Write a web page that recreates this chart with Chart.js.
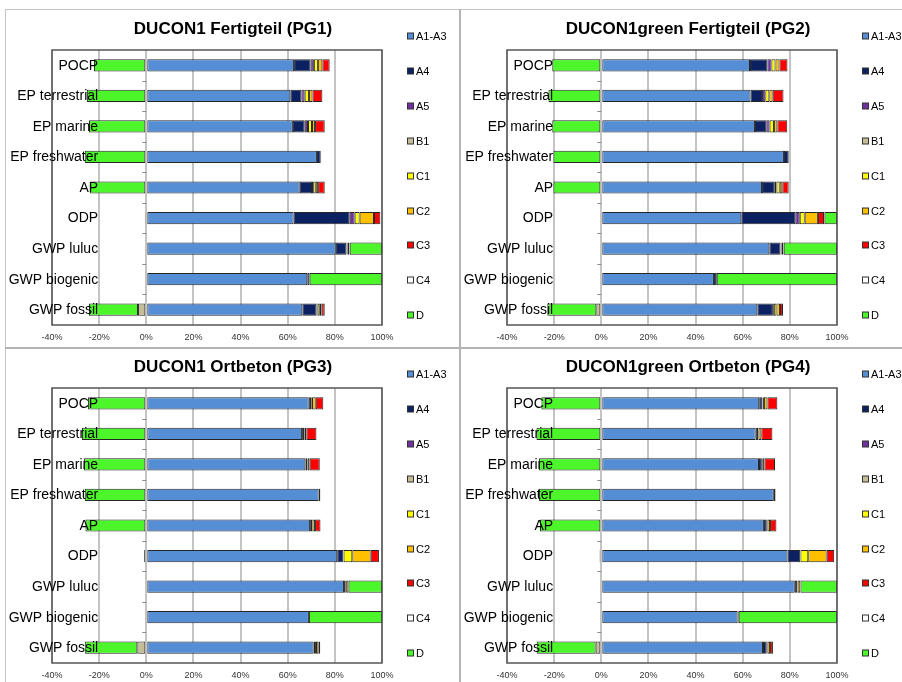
<!DOCTYPE html>
<html>
<head>
<meta charset="utf-8">
<script src="https://cdn.jsdelivr.net/npm/chart.js@4.4.1/dist/chart.umd.min.js"></script>
<style>
  html, body { margin: 0; padding: 0; background: #fff; }
  #page { position: relative; width: 902px; height: 682px; overflow: hidden; }
  canvas { position: absolute; }
  .rule { position: absolute; background: #c3c3c3; z-index: 2; }
</style>
</head>
<body>
<div id="page">
  <div class="rule" style="left:5px;top:9px;width:897px;height:1px"></div>
  <div class="rule" style="left:5px;top:9px;width:1px;height:673px"></div>
  <div class="rule" style="left:459px;top:9px;width:2px;height:673px;background:#b4b4b4"></div>
  <div class="rule" style="left:5px;top:347px;width:897px;height:2px;background:#b4b4b4"></div>
  <canvas id="pg1" width="454" height="337" style="left:6px;top:11px"></canvas>
  <canvas id="pg2" width="454" height="337" style="left:461px;top:11px"></canvas>
  <canvas id="pg3" width="454" height="337" style="left:6px;top:349px"></canvas>
  <canvas id="pg4" width="454" height="337" style="left:461px;top:349px"></canvas>
</div>
<script>
const categories = ['POCP', 'EP terrestrial', 'EP marine', 'EP freshwater', 'AP', 'ODP', 'GWP luluc', 'GWP biogenic', 'GWP fossil'];
const stages = ['A1-A3', 'A4', 'A5', 'B1', 'C1', 'C2', 'C3', 'C4', 'D'];
const stageColors = ['#558ed5', '#0b2162', '#7030a0', '#c4bd97', '#ffff00', '#ffc000', '#ff0000', '#ffffff', '#4df52b'];
const xTicks = [-40, -20, 0, 20, 40, 60, 80, 100];

// shares in %, one row per stage (A1-A3 ... D), columns follow categories
const pg1Values = [
    [62.7, 61.1, 62.2, 72.4, 65.1, 62.5, 80.4, 68.3, 66.2],
    [7.0, 4.7, 5.0, 1.6, 5.2, 23.8, 4.5, 1.0, 6.0],
    [1.4, 1.4, 1.4, 0.1, 0.5, 2.1, 0.2, 0, 0.4],
    [0, 0, 0, 0, 0, 0, 0, 0, -3.5],
    [1.7, 1.8, 1.7, 0, 1.1, 2.1, 0.3, 0, 1.0],
    [1.9, 1.5, 1.3, 0, 1.0, 6.1, 0.8, 0, 0.8],
    [3.1, 4.2, 4.1, 0.1, 2.8, 2.7, 0.1, 0, 1.3],
    [0, 0, 0, 0, 0, 0, 0, 0, 0],
    [-22.2, -25.2, -24.3, -26.1, -24.0, -0.6, 13.7, 30.7, -20.8]
];
const pg2Values = [
    [63.1, 63.3, 65.2, 77.5, 68.2, 59.4, 71.3, 47.8, 66.2],
    [7.4, 4.9, 4.8, 2.0, 5.4, 22.9, 4.7, 1.2, 6.6],
    [1.7, 1.4, 1.4, 0.1, 0.7, 1.9, 0.1, 0, 0.4],
    [0, 0, 0, 0, 0, 0, 0, 0, -2.1],
    [1.7, 1.7, 1.9, 0, 1.4, 2.1, 0.3, 0, 1.1],
    [1.7, 1.4, 1.4, 0, 1.1, 5.6, 0.8, 0, 1.5],
    [3.4, 4.6, 4.2, 0.1, 2.7, 2.6, 0.2, 0, 1.3],
    [0, 0, 0, 0, 0, 0.2, 0, 0, 0],
    [-20.8, -22.4, -20.8, -20.3, -20.3, 5.3, 22.6, 51.0, -20.8]
];
const pg3Values = [
    [68.9, 66.1, 67.5, 73.1, 69.5, 81.0, 83.9, 69.0, 71.0],
    [1.0, 0.8, 0.7, 0.7, 0.8, 2.6, 0.7, 0, 0.6],
    [0.1, 0, 0, 0, 0, 0.1, 0, 0, 0],
    [0, 0, 0, 0, 0, 0, 0, 0, -3.8],
    [0.3, 0.2, 0.2, 0, 0.2, 3.7, 0.2, 0, 0.4],
    [1.6, 0.8, 0.9, 0, 1.1, 7.8, 1.0, 0, 1.0],
    [3.2, 4.3, 4.3, 0.1, 2.3, 3.5, 0, 0, 0.8],
    [0, 0, 0, 0, 0, 0, 0, 0, 0],
    [-24.7, -27.3, -26.4, -26.1, -25.8, -0.9, 14.2, 31.0, -22.3]
];
const pg4Values = [
    [67.0, 65.5, 66.9, 73.2, 69.0, 79.0, 82.1, 57.8, 68.6],
    [1.3, 1.0, 1.2, 0.7, 1.2, 5.4, 1.0, 0.5, 1.4],
    [0.1, 0, 0, 0, 0, 0.1, 0, 0, 0],
    [0, 0, 0, 0, 0, 0, 0, 0, -2.4],
    [0.6, 0.2, 0.2, 0, 0.3, 3.3, 0.2, 0, 0.5],
    [1.5, 1.2, 0.9, 0, 1.1, 7.8, 1.1, 0, 1.1],
    [4.2, 4.7, 4.5, 0.1, 2.7, 3.2, 0.1, 0, 1.3],
    [0, 0, 0, 0, 0, 0, 0, 0, 0],
    [-25.4, -27.5, -26.4, -26.4, -26.0, -0.7, 15.5, 41.7, -25.0]
];

const fontFamily = '"Liberation Sans", Arial, sans-serif';

// frame, category ticks/labels, title and legend drawn over the bars
const decor = {
    id: 'decor',
    afterDatasetsDraw(chart, args, opts) {
        const { ctx, chartArea: a, scales: { x, y } } = chart;
        ctx.save();

        ctx.strokeStyle = '#555';
        ctx.lineWidth = 1.5;
        ctx.strokeRect(a.left, a.top, a.right - a.left, a.bottom - a.top);

        const x0 = x.getPixelForValue(0);
        ctx.strokeStyle = '#8c8c8c';
        ctx.lineWidth = 1;
        for (let i = 0; i < chart.data.labels.length - 1; i++) {
            const yy = Math.round((y.getPixelForValue(i) + y.getPixelForValue(i + 1)) / 2) + 0.5;
            ctx.beginPath();
            ctx.moveTo(x0 - 4, yy);
            ctx.lineTo(x0, yy);
            ctx.stroke();
        }

        ctx.fillStyle = '#000';
        ctx.font = '14px ' + fontFamily;
        ctx.textAlign = 'right';
        ctx.textBaseline = 'middle';
        const lx = x.getPixelForValue(-20) - 1;
        chart.data.labels.forEach((l, i) => ctx.fillText(l, lx, y.getPixelForValue(i) + 0.5));

        ctx.font = 'bold 17px ' + fontFamily;
        ctx.textAlign = 'center';
        ctx.fillText(opts.text, chart.width / 2, 18);

        ctx.font = '11px ' + fontFamily;
        ctx.textAlign = 'left';
        chart.data.datasets.forEach((ds, k) => {
            const cy = Math.round(25 + k * 34.9);
            ctx.fillStyle = ds.backgroundColor;
            ctx.fillRect(401.5, cy - 3, 6, 6);
            ctx.strokeStyle = '#333';
            ctx.strokeRect(401.5, cy - 3, 6, 6);
            ctx.fillStyle = '#000';
            ctx.fillText(ds.label, 410, cy + 0.5);
        });
        ctx.restore();
    }
};

function makeChart(id, title, rows) {
    return new Chart(document.getElementById(id), {
        type: 'bar',
        data: {
            labels: categories,
            datasets: stages.map((s, k) => ({
                label: s,
                data: rows[k],
                backgroundColor: stageColors[k],
                borderColor: '#262626',
                borderWidth: 1,
                borderSkipped: false,
                barPercentage: 0.4,
                categoryPercentage: 1
            }))
        },
        options: {
            indexAxis: 'y',
            responsive: false,
            animation: false,
            layout: { padding: { left: 46, right: 78, top: 39, bottom: 0 } },
            scales: {
                x: {
                    stacked: true,
                    min: xTicks[0],
                    max: xTicks[xTicks.length - 1],
                    afterFit: s => { s.height = 23; },
                    afterBuildTicks: s => { s.ticks = xTicks.map(v => ({ value: v })); },
                    ticks: {
                        callback: v => v + '%',
                        font: { size: 9, family: fontFamily },
                        color: '#333',
                        padding: 7,
                        maxRotation: 0,
                        autoSkip: false
                    },
                    grid: { color: '#c4c4c4', lineWidth: 2, drawTicks: false },
                    border: { display: false }
                },
                y: { stacked: true, display: false }
            },
            plugins: {
                legend: { display: false },
                tooltip: { enabled: false },
                decor: { text: title }
            }
        },
        plugins: [decor]
    });
}

makeChart('pg1', 'DUCON1 Fertigteil (PG1)', pg1Values);
makeChart('pg2', 'DUCON1green Fertigteil (PG2)', pg2Values);
makeChart('pg3', 'DUCON1 Ortbeton (PG3)', pg3Values);
makeChart('pg4', 'DUCON1green Ortbeton (PG4)', pg4Values);
</script>
</body>
</html>
